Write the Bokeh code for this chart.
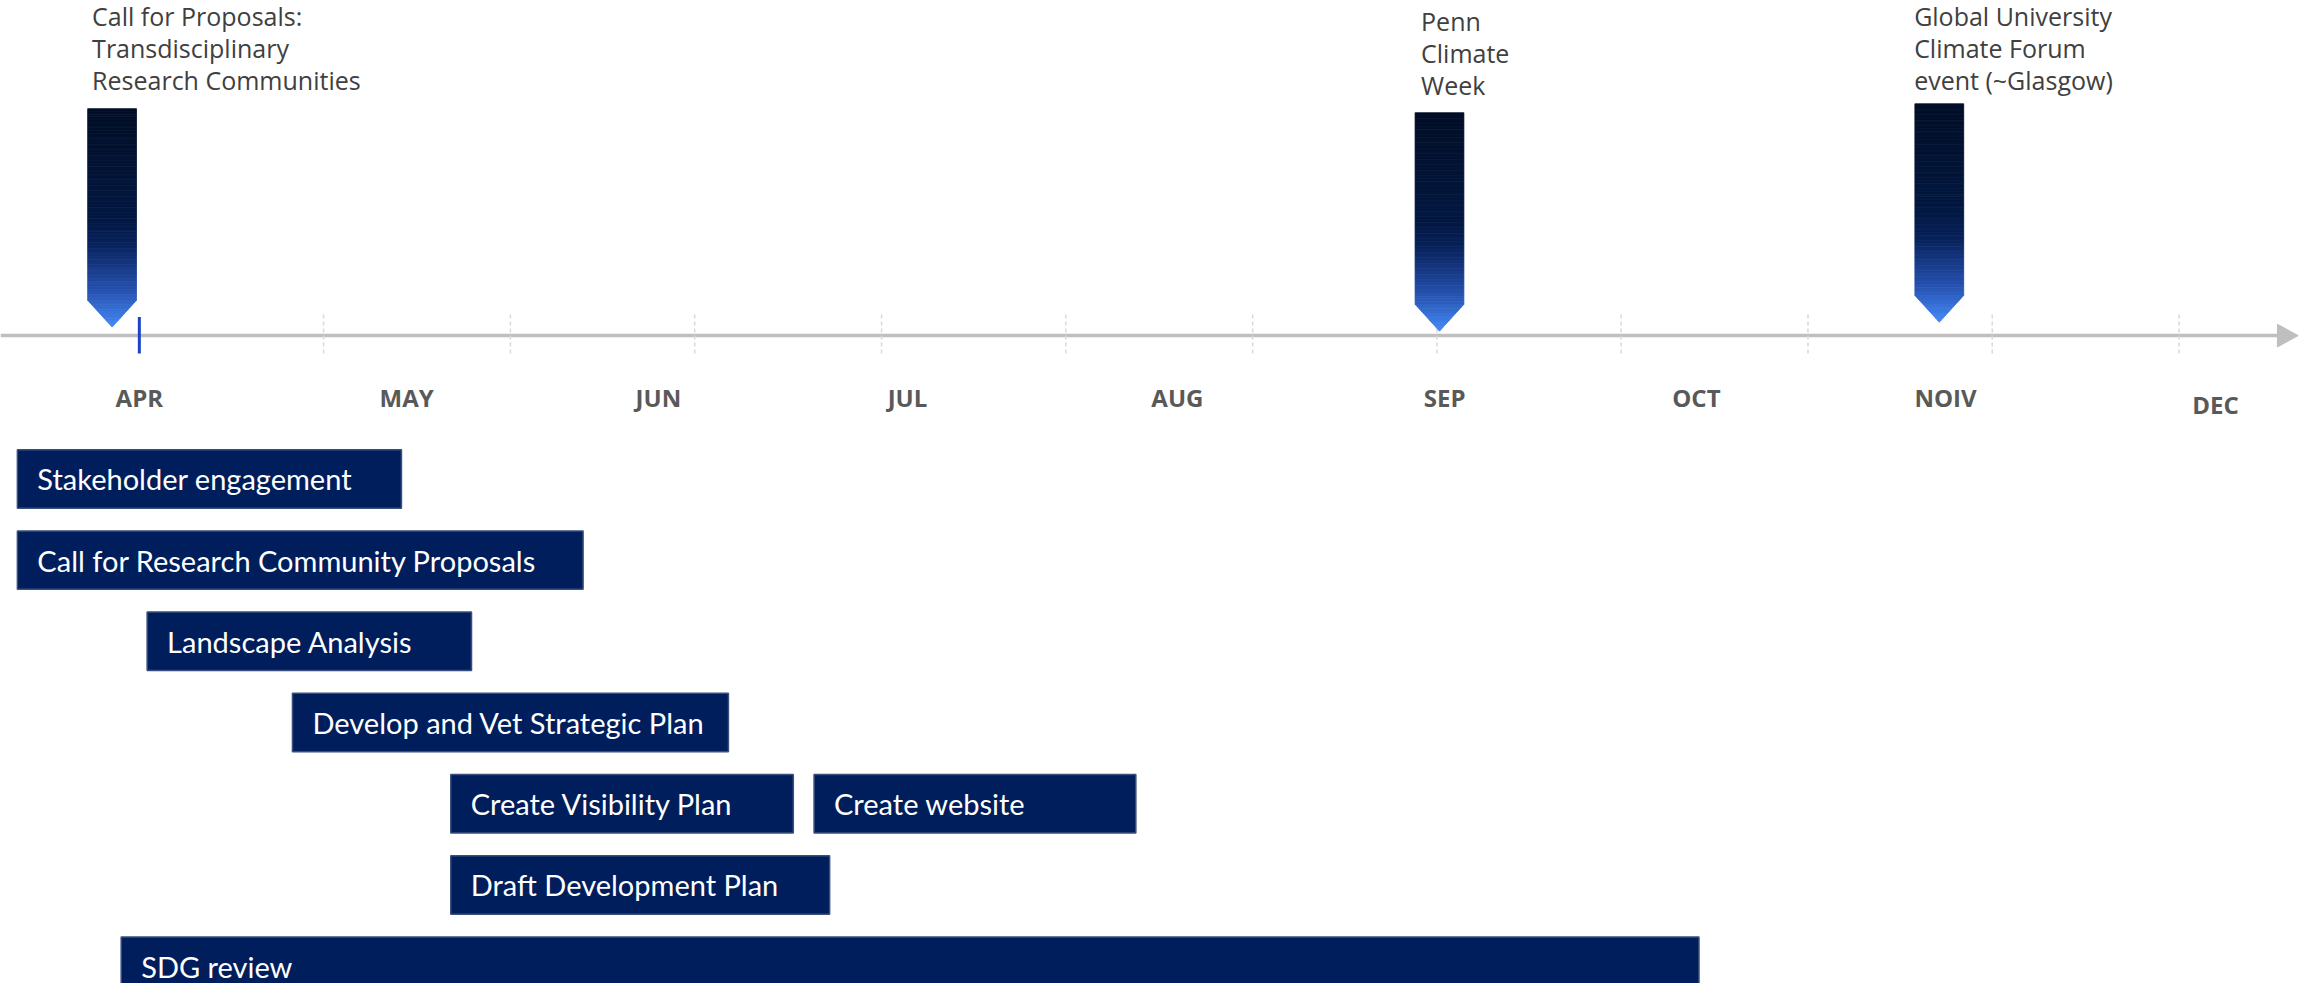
import numpy as np
from bokeh.plotting import figure
from bokeh.models import Range1d, ColumnDataSource
from bokeh.core.properties import value
from bokeh.embed import file_html
from bokeh.resources import INLINE

# ---------------- data ----------------
months = ["APR", "MAY", "JUN", "JUL", "AUG", "SEP", "OCT", "NOIV", "DEC"]
month_pos = [0.0, 1.03, 2.0, 2.96, 4.0, 5.03, 6.0, 6.96, 8.0]
month_drop = [0, 0, 0, 0, 0, 0, 0, 0, 1]

tick_pos = [0.71, 1.43, 2.14, 2.86, 3.57, 4.29, 5.0, 5.71, 6.43, 7.14, 7.86]
start_tick = [0.0]

tasks = ["Stakeholder engagement", "Call for Research Community Proposals",
         "Landscape Analysis", "Develop and Vet Strategic Plan",
         "Create  Visibility Plan", "Create website",
         "Draft Development Plan", "SDG review"]
task_start = [-0.47, -0.47, 0.03, 0.59, 1.20, 2.60, 1.20, -0.07]
task_end = [1.01, 1.71, 1.28, 2.27, 2.52, 3.84, 2.66, 6.01]
task_row = [0, 1, 2, 3, 4, 4, 5, 6]

events = ["Call for Proposals:\nTransdisciplinary\nResearch Communities",
          "Penn\nClimate\nWeek",
          "Global University\nClimate Forum\nevent (~Glasgow)"]
event_pos = [-0.105, 5.01, 6.936]
event_label_pos = [-0.182, 4.939, 6.839]
event_label_top = [-5.91, -5.85, -5.91]
event_tip = [-1.87, -1.82, -1.93]

# ---------------- layout / style ----------------
W, H = 2299, 983
XMIN, XMAX = -0.535, 8.324
YBOT, YTOP = 6.214, -5.892
AXIS_Y = -1.765

p = figure(width=W, height=H, x_range=Range1d(XMIN, XMAX), y_range=Range1d(YBOT, YTOP),
           output_backend="svg", toolbar_location=None, min_border=0,
           background_fill_color="white", border_fill_color="white")
p.axis.visible = False
p.grid.visible = False
p.outline_line_color = None

# timeline line with arrow head
p.line(x=[XMIN, XMAX - 0.05], y=[AXIS_Y, AXIS_Y], line_color="#bfbfbf", line_width=3.5)
p.patch(x=[XMAX - 0.085, XMAX - 0.005, XMAX - 0.085], y=[AXIS_Y - 0.14, AXIS_Y, AXIS_Y + 0.14],
        fill_color="#bfbfbf", line_color="#bfbfbf")

# dashed ticks
p.segment(x0=tick_pos, x1=tick_pos, y0=[AXIS_Y - 0.26] * len(tick_pos), y1=[AXIS_Y + 0.23] * len(tick_pos),
          line_color="#d9d9d9", line_width=1.5, line_dash="4 3")
p.segment(x0=start_tick, x1=start_tick, y0=[AXIS_Y - 0.23], y1=[AXIS_Y + 0.22],
          line_color="#1a44c8", line_width=3)

# month labels
mlab = ColumnDataSource(dict(x=month_pos, y=[AXIS_Y + 0.76 + 0.09 * d for d in month_drop], t=months))
p.text(x="x", y="y", text="t", source=mlab, text_align="center", text_baseline="middle",
       text_font=value("Open Sans"), text_font_style="bold", text_font_size="24px", text_color="#595959")

# milestone arrows with vertical gradient
stops = [(0.0, (2, 14, 38)), (0.5, (2, 24, 66)), (0.62, (8, 34, 92)), (0.82, (36, 78, 170)), (1.0, (68, 136, 246))]


def grad(t):
    for (t0, c0), (t1, c1) in zip(stops[:-1], stops[1:]):
        if t <= t1:
            f = (t - t0) / (t1 - t0) if t1 > t0 else 0
            c = [int(round(a + (b - a) * f)) for a, b in zip(c0, c1)]
            return "#%02x%02x%02x" % tuple(c)
    return "#%02x%02x%02x" % stops[-1][1]


HW = 0.094     # half width (months)
LEN = 2.69     # total length (rows)
TRI = 0.33     # tip height (rows)
xs, ys, cs = [], [], []
for cx, tip in zip(event_pos, event_tip):
    top = tip - LEN
    shaft_end = tip - TRI
    n1, n2 = 70, 12
    edges = list(np.linspace(top, shaft_end, n1 + 1)) + list(np.linspace(shaft_end, tip, n2 + 1))[1:]

    def half(y):
        return HW if y <= shaft_end + 1e-9 else HW * (tip - y) / TRI

    for y0, y1 in zip(edges[:-1], edges[1:]):
        w0, w1 = half(y0), half(y1)
        xs.append([cx - w0, cx + w0, cx + w1, cx - w1])
        ys.append([y0, y0, y1, y1])
        cs.append(grad(((y0 + y1) / 2 - top) / LEN))
p.patches(xs=xs, ys=ys, fill_color=cs, line_color=cs, line_width=0.8)

# event labels
elab = ColumnDataSource(dict(x=event_label_pos, y=event_label_top, t=events))
p.text(x="x", y="y", text="t", source=elab, text_align="left", text_baseline="top",
       text_font=value("Open Sans"), text_font_size="25px", text_color="#404040", text_line_height=0.94)

# task bars
BAR_H = 0.72
bars = ColumnDataSource(dict(left=task_start, right=task_end,
                             top=[r - BAR_H / 2 for r in task_row], bottom=[r + BAR_H / 2 for r in task_row],
                             y=task_row, t=tasks))
p.quad(left="left", right="right", top="top", bottom="bottom", source=bars,
       fill_color="#001e5b", line_color="#3a4f7e", line_width=1.5)
p.text(x="left", y="y", text="t", source=bars, x_offset=20, text_align="left", text_baseline="middle",
       text_font=value("Lato"), text_font_size="29px", text_color="white")

open("out.html", "w").write(file_html(p, INLINE))
